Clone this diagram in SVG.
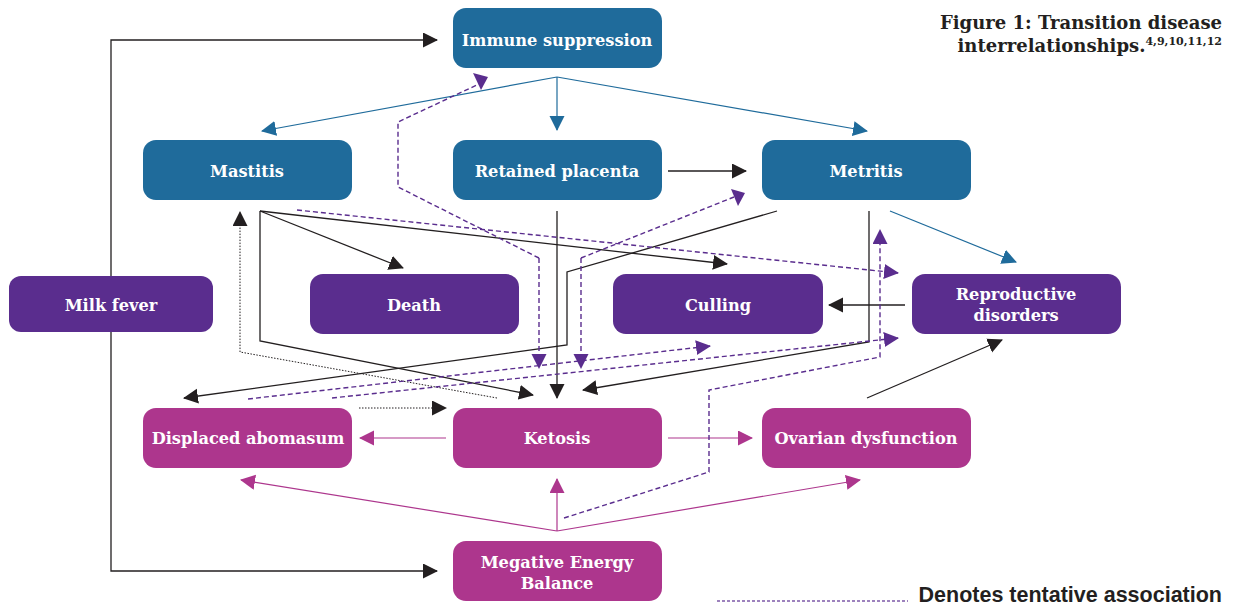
<svg xmlns="http://www.w3.org/2000/svg" width="1238" height="607" viewBox="0 0 1238 607">
<style>
.blue{fill:#1f6b9b}
.purp{fill:#5a2d8e}
.mag{fill:#ad368d}
.lbl{font-family:"DejaVu Serif","Liberation Serif",serif;font-weight:bold;font-size:16.2px;fill:#fff;text-anchor:middle}
.k{fill:none;stroke:#231f20;stroke-width:1.3}
.kd{fill:none;stroke:#231f20;stroke-width:1;stroke-dasharray:1.5 1.5}
.b{fill:none;stroke:#1f6b9b;stroke-width:1.2}
.m{fill:none;stroke:#ad368d;stroke-width:1.2}
.pd{fill:none;stroke:#5a2d8e;stroke-width:1.4;stroke-dasharray:5 3}
.title{font-family:"DejaVu Serif","Liberation Serif",serif;font-weight:bold;font-size:18px;fill:#231f20;text-anchor:end}
</style>
<defs>
<marker id="ak" markerUnits="userSpaceOnUse" markerWidth="16" markerHeight="16" refX="14" refY="7.5" orient="auto"><path d="M0,0 L15,7.5 L0,15 z" fill="#231f20"/></marker>
<marker id="ab" markerUnits="userSpaceOnUse" markerWidth="16" markerHeight="16" refX="14" refY="7.5" orient="auto"><path d="M0,0 L15,7.5 L0,15 z" fill="#1f6b9b"/></marker>
<marker id="am" markerUnits="userSpaceOnUse" markerWidth="16" markerHeight="16" refX="14" refY="7.5" orient="auto"><path d="M0,0 L15,7.5 L0,15 z" fill="#ad368d"/></marker>
<marker id="ap" markerUnits="userSpaceOnUse" markerWidth="16" markerHeight="16" refX="14" refY="7.5" orient="auto"><path d="M0,0 L15,7.5 L0,15 z" fill="#5a2d8e"/></marker>
</defs>

<g id="connectors">
<path class="b" d="M557,77 L262,131" marker-end="url(#ab)"/>
<path class="b" d="M557,77 L557,130" marker-end="url(#ab)"/>
<path class="b" d="M557,77 L867,131" marker-end="url(#ab)"/>
<path class="b" d="M890,211 L1016,262" marker-end="url(#ab)"/>
<path class="k" d="M111,276 L111,40 L437,40" marker-end="url(#ak)"/>
<path class="k" d="M111,332 L111,571 L437,571" marker-end="url(#ak)"/>
<path class="k" d="M668,171 L746,171" marker-end="url(#ak)"/>
<path class="k" d="M260,211 L403,268" marker-end="url(#ak)"/>
<path class="k" d="M260,211 L727,264" marker-end="url(#ak)"/>
<path class="k" d="M260,211 L260,341 L533,395" marker-end="url(#ak)"/>
<path class="k" d="M557,211 L557,398" marker-end="url(#ak)"/>
<path class="k" d="M777,211 L567,272 L567,345 L184,398" marker-end="url(#ak)"/>
<path class="k" d="M869,211 L869,342 L583,390" marker-end="url(#ak)"/>
<path class="k" d="M905,305 L829,305" marker-end="url(#ak)"/>
<path class="k" d="M867,398 L1002,340" marker-end="url(#ak)"/>
<path class="kd" d="M497,398 L240,352 L240,212" marker-end="url(#ak)"/>
<path class="kd" d="M359,408 L446,408" marker-end="url(#ak)"/>
<path class="m" d="M446,438 L360,438" marker-end="url(#am)"/>
<path class="m" d="M668,438 L752,438" marker-end="url(#am)"/>
<path class="m" d="M557,531 L241,480" marker-end="url(#am)"/>
<path class="m" d="M557,531 L557,479" marker-end="url(#am)"/>
<path class="m" d="M557,531 L860,480" marker-end="url(#am)"/>
<path class="pd" d="M539,258 L398,187 L398,122 L479,84"/>
<polygon points="473,73 488,77 481,90" fill="#5a2d8e"/>
<path class="pd" d="M539,258 L539,368" marker-end="url(#ap)"/>
<path class="pd" d="M581,258 L734,197"/>
<polygon points="731,189 745,193 738,206" fill="#5a2d8e"/>
<path class="pd" d="M581,258 L581,368" marker-end="url(#ap)"/>
<path class="pd" d="M297,210 L898,273" marker-end="url(#ap)"/>
<path class="pd" d="M248,399 L710,346" marker-end="url(#ap)"/>
<path class="pd" d="M332,398 L898,338" marker-end="url(#ap)"/>
<path class="pd" d="M564,518 L709,472 L709,390 L880,357 L880,230" marker-end="url(#ap)"/>
</g>

<g id="immune"><rect class="blue" x="453" y="8" width="209" height="60" rx="13"/><text class="lbl" x="557" y="46">Immune suppression</text></g>
<g id="mastitis"><rect class="blue" x="143" y="140" width="209" height="60" rx="13"/><text class="lbl" x="247" y="177">Mastitis</text></g>
<g id="retained"><rect class="blue" x="453" y="140" width="209" height="60" rx="13"/><text class="lbl" x="557" y="177">Retained placenta</text></g>
<g id="metritis"><rect class="blue" x="762" y="140" width="209" height="60" rx="13"/><text class="lbl" x="866" y="177">Metritis</text></g>
<g id="milkfever"><rect class="purp" x="9" y="276" width="204" height="56" rx="12"/><text class="lbl" x="111" y="311">Milk fever</text></g>
<g id="death"><rect class="purp" x="310" y="274" width="209" height="60" rx="13"/><text class="lbl" x="414" y="311">Death</text></g>
<g id="culling"><rect class="purp" x="613" y="274" width="210" height="60" rx="13"/><text class="lbl" x="718" y="311">Culling</text></g>
<g id="reproductive"><rect class="purp" x="912" y="274" width="209" height="60" rx="13"/><text class="lbl" x="1016" y="300">Reproductive</text><text class="lbl" x="1016" y="321">disorders</text></g>
<g id="da"><rect class="mag" x="143" y="408" width="209" height="60" rx="13"/><text class="lbl" x="248" y="444">Displaced abomasum</text></g>
<g id="ketosis"><rect class="mag" x="453" y="408" width="209" height="60" rx="13"/><text class="lbl" x="557" y="444">Ketosis</text></g>
<g id="ovarian"><rect class="mag" x="762" y="408" width="209" height="60" rx="13"/><text class="lbl" x="866" y="444">Ovarian dysfunction</text></g>
<g id="neb"><rect class="mag" x="453" y="541" width="209" height="60" rx="13"/><text class="lbl" x="557" y="568">Megative Energy</text><text class="lbl" x="557" y="589">Balance</text></g>

<g id="title">
<text class="title" x="1222" y="29">Figure 1: Transition disease</text>
<text class="title" x="1222" y="52">interrelationships.<tspan font-size="11" dy="-7">4,9,10,11,12</tspan></text>
</g>
<g id="legend">
<line x1="717" y1="601" x2="908" y2="601" stroke="#7d5aa8" stroke-width="1.5" stroke-dasharray="3 2"/>
<text x="1222" y="602" font-family="Liberation Sans, Arial, sans-serif" font-weight="bold" font-size="21.5" fill="#231f20" text-anchor="end">Denotes tentative association</text>
</g>
</svg>
